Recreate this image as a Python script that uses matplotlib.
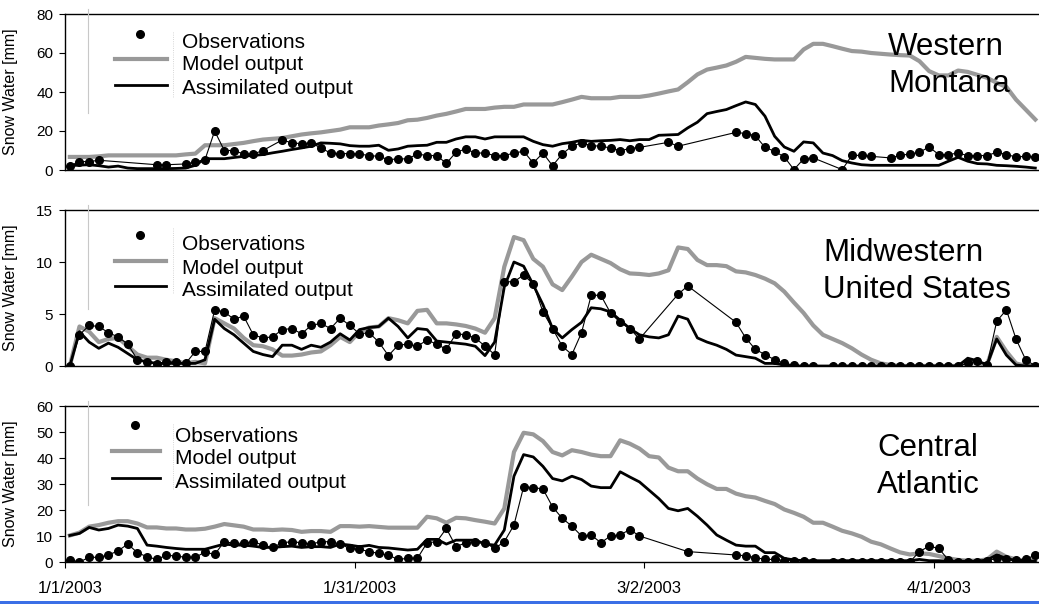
import numpy as np
import matplotlib.pyplot as plt
from matplotlib.lines import Line2D
from matplotlib.patches import Rectangle

plt.rcParams['font.family'] = ['Liberation Sans', 'DejaVu Sans']

# day index 0 = 1/1/2003
days = np.arange(101)
tick_days = [0, 30, 60, 90]
tick_labels = ['1/1/2003', '1/31/2003', '3/2/2003', '4/1/2003']
series_names = ['Observations', 'Model output', 'Assimilated output']
regions = ['Western\nMontana', 'Midwestern\nUnited States', 'Central\nAtlantic']

# --- Western Montana ---
mt_model = [6.7, 6.7, 6.7, 7.0, 7.5, 7.5, 7.5, 7.5, 7.5, 7.5,
            7.5, 7.5, 8.0, 8.4, 12.7, 12.7, 12.7, 13.3, 13.9, 14.8,
            15.6, 16.0, 16.4, 17.3, 18.2, 18.8, 19.3, 20.0, 20.7, 21.9,
            21.9, 21.9, 22.8, 23.4, 24.1, 25.5, 25.8, 26.7, 27.9, 28.8,
            30.0, 31.3, 31.3, 31.3, 32.0, 32.4, 32.4, 33.6, 33.6, 33.6,
            33.6, 34.8, 36.1, 37.5, 36.8, 36.8, 36.8, 37.5, 37.5, 37.5,
            38.2, 39.2, 40.3, 41.3, 45.0, 49.0, 51.5, 52.5, 53.6, 55.5,
            58.0, 57.5, 57.0, 56.7, 56.7, 56.7, 61.8, 64.7, 64.7, 63.5,
            62.2, 61.0, 60.7, 60.0, 59.6, 59.2, 58.9, 58.7, 55.8, 50.7,
            48.5, 48.5, 51.0, 50.3, 48.8, 47.3, 44.7, 42.6, 36.1, 31.0,
            25.9]
mt_assim = [2.2, 2.5, 2.7, 2.2, 1.5, 2.0, 1.0, 0.7, 0.7, 0.7,
            0.7, 0.8, 1.0, 2.4, 5.8, 5.8, 5.8, 6.4, 7.0, 7.5,
            7.9, 8.8, 9.6, 10.5, 11.3, 12.2, 13.9, 13.7, 13.4, 12.5,
            12.2, 12.2, 12.7, 10.1, 10.8, 12.2, 12.5, 12.7, 14.2, 14.2,
            15.9, 17.0, 17.0, 15.9, 17.0, 17.0, 17.0, 17.0, 14.7, 13.0,
            12.2, 13.5, 14.2, 15.2, 14.7, 15.0, 15.2, 15.6, 15.0, 15.6,
            15.6, 17.8, 18.0, 18.2, 21.6, 24.5, 28.9, 30.0, 31.0, 33.0,
            34.9, 33.6, 27.6, 17.3, 11.8, 9.6, 14.4, 13.9, 8.7, 7.4,
            4.8, 3.6, 2.7, 2.4, 2.4, 2.4, 2.4, 2.4, 2.4, 2.4,
            2.4, 4.5, 6.5, 4.5, 3.3, 3.1, 2.4, 2.2, 1.9, 1.5,
            1.0]
mt_obs_days = [0, 1, 2, 3, 9, 10, 12, 13, 14, 15, 16, 17, 18, 19, 20,
               22, 23, 24, 25, 26, 27, 28, 29, 30, 31, 32, 33, 34, 35, 36,
               37, 38, 39, 40, 41, 42, 43, 44, 45, 46, 47, 48, 49, 50, 51,
               52, 53, 54, 55, 56, 57, 58, 59, 62, 63, 69, 70, 71, 72, 73,
               74, 75, 76, 77, 80, 81, 82, 83, 85, 86, 87, 88, 89, 90, 91,
               92, 93, 94, 95, 96, 97, 98, 99, 100]
mt_obs = [2.2, 4.3, 4.3, 5.0, 2.7, 2.7, 3.1, 4.1, 5.3, 20.0, 10.0, 10.0, 8.2, 8.2, 10.0,
          15.4, 13.9, 13.5, 13.9, 11.3, 8.7, 8.4, 8.4, 8.2, 7.4, 7.0, 5.3, 5.7, 5.7, 8.2,
          7.4, 7.4, 3.4, 9.1, 10.8, 8.7, 8.7, 7.4, 7.4, 8.7, 9.6, 3.6, 8.7, 2.2, 8.2,
          12.2, 13.9, 12.5, 12.2, 11.3, 9.9, 11.0, 11.6, 14.2, 12.2, 19.3, 18.7, 17.6, 11.6, 9.6,
          6.7, 0.2, 5.7, 6.2, 0.2, 7.5, 7.5, 7.0, 6.2, 7.5, 8.2, 9.1, 11.8, 7.9, 7.9,
          8.7, 7.4, 7.4, 7.4, 9.1, 7.9, 6.7, 7.0, 6.7]

# --- Midwestern United States ---
mw_model = [0.0, 3.8, 3.3, 2.3, 2.6, 2.7, 1.9, 1.1, 0.8, 0.8,
            0.6, 0.45, 0.25, 0.4, 0.25, 4.6, 4.1, 3.6, 2.7, 2.0,
            1.9, 1.6, 1.0, 1.0, 1.1, 1.3, 1.4, 2.0, 2.8, 2.3,
            3.3, 3.7, 3.8, 4.6, 4.4, 4.1, 5.3, 5.4, 4.1, 4.1,
            4.0, 3.85, 3.6, 3.2, 4.6, 9.55, 12.4, 12.1, 10.3, 9.55,
            7.85, 7.3, 8.6, 10.0, 10.7, 10.3, 9.9, 9.3, 8.9, 8.85,
            8.75, 8.9, 9.2, 11.4, 11.25, 10.2, 9.7, 9.7, 9.6, 9.1,
            9.0, 8.75, 8.4, 7.95, 7.15, 6.1, 5.1, 3.9, 3.0, 2.6,
            2.2, 1.7, 1.1, 0.6, 0.25, 0.1, 0.0, 0.0, 0.0, 0.0,
            0.0, 0.0, 0.0, 0.5, 0.25, 0.15, 2.8, 1.4, 0.25, 0.0,
            0.0]
mw_assim = [0.0, 3.3, 2.3, 1.7, 2.2, 1.8, 1.2, 0.6, 0.4, 0.25,
            0.25, 0.25, 0.25, 0.25, 0.6, 4.5, 3.6, 3.0, 2.2, 1.4,
            1.1, 0.9, 2.0, 2.0, 1.6, 2.0, 1.8, 2.3, 3.1, 2.5,
            3.5, 3.7, 3.8, 4.6, 3.8, 2.7, 3.6, 3.5, 2.4, 2.3,
            2.2, 2.1, 1.9, 1.0, 2.3, 7.6, 10.0, 9.6, 7.8, 5.9,
            3.6, 2.7, 3.5, 4.2, 5.6, 5.5, 5.2, 4.4, 3.6, 3.0,
            2.8, 2.7, 3.0, 4.8, 4.5, 2.7, 2.3, 2.0, 1.6, 1.05,
            0.9, 0.75, 0.25, 0.25, 0.1, 0.0, 0.0, 0.0, 0.0, 0.0,
            0.0, 0.0, 0.0, 0.0, 0.0, 0.0, 0.0, 0.0, 0.0, 0.0,
            0.0, 0.0, 0.0, 0.75, 0.5, 0.1, 2.6, 1.05, 0.1, 0.0,
            0.0]
mw_obs_days = [0, 1, 2, 3, 4, 5, 6, 7, 8, 9, 10, 11, 12, 13, 14,
               15, 16, 17, 18, 19, 20, 21, 22, 23, 24, 25, 26, 27, 28, 29,
               30, 31, 32, 33, 34, 35, 36, 37, 38, 39, 40, 41, 42, 43, 44,
               45, 46, 47, 48, 49, 50, 51, 52, 53, 54, 55, 56, 57, 58, 59,
               63, 64, 69, 70, 71, 72, 73, 74, 75, 76, 77, 79, 80, 81, 82,
               83, 84, 85, 86, 87, 88, 89, 90, 91, 92, 93, 94, 95, 96, 97,
               98, 99, 100]
mw_obs = [0.0, 3.0, 3.9, 3.8, 3.2, 2.8, 2.1, 0.6, 0.4, 0.16, 0.4, 0.4, 0.25, 1.4, 1.4,
          5.4, 5.2, 4.5, 4.8, 3.0, 2.7, 2.8, 3.5, 3.6, 3.1, 3.9, 4.1, 3.6, 4.6, 3.9,
          3.1, 3.2, 2.3, 1.0, 2.0, 2.1, 1.9, 2.5, 2.1, 1.6, 3.1, 3.0, 2.7, 1.9, 1.1,
          8.1, 8.1, 8.75, 7.9, 5.2, 3.6, 1.9, 1.1, 3.2, 6.8, 6.8, 5.1, 4.2, 3.6, 2.6,
          6.9, 7.7, 4.2, 2.7, 1.6, 1.1, 0.6, 0.25, 0.1, 0.0, 0.0, 0.0, 0.0, 0.0, 0.0,
          0.0, 0.0, 0.0, 0.0, 0.0, 0.0, 0.0, 0.0, 0.0, 0.0, 0.25, 0.5, 0.1, 4.3, 5.4,
          2.6, 0.6, 0.0]

# --- Central Atlantic ---
ca_model = [10.2, 11.3, 13.6, 14.2, 15.1, 15.7, 15.7, 14.8, 13.3, 13.3,
            12.9, 12.9, 12.5, 12.5, 12.8, 13.6, 14.6, 14.1, 13.6, 12.5,
            12.5, 12.3, 12.5, 12.3, 11.6, 11.9, 11.9, 11.6, 13.8, 13.8,
            13.6, 13.8, 13.5, 13.2, 13.2, 13.2, 13.2, 17.4, 16.8, 15.1,
            17.0, 16.8, 16.1, 15.5, 14.8, 20.6, 42.3, 49.7, 49.1, 46.5,
            42.3, 41.0, 43.0, 42.3, 41.3, 40.7, 40.7, 46.8, 45.5, 43.6,
            40.7, 40.2, 36.3, 34.9, 34.9, 32.1, 29.9, 28.1, 28.1, 26.3,
            25.3, 24.8, 23.5, 22.3, 20.2, 18.9, 17.4, 15.1, 15.1, 13.6,
            12.0, 11.0, 9.7, 7.8, 6.8, 5.2, 3.7, 2.9, 3.3, 3.1,
            2.3, 1.4, 0.8, 0.5, 0.5, 1.0, 4.0, 2.0, 1.0, 0.5,
            0.8]
ca_assim = [10.2, 11.0, 13.3, 12.3, 12.9, 14.2, 13.8, 12.9, 6.5, 6.1,
            5.6, 5.2, 4.9, 4.9, 4.9, 5.9, 6.9, 6.5, 6.5, 6.1,
            5.6, 5.6, 5.9, 6.1, 5.6, 5.9, 5.9, 5.6, 6.9, 6.5,
            5.9, 6.4, 5.6, 5.4, 5.0, 4.6, 4.9, 8.7, 8.7, 6.9,
            8.4, 8.4, 8.4, 6.9, 6.5, 12.3, 33.0, 41.3, 40.4, 36.8,
            32.1, 31.2, 33.0, 31.7, 29.2, 28.6, 28.6, 34.7, 32.7, 30.8,
            27.6, 24.4, 20.6, 19.7, 20.6, 17.6, 14.2, 10.4, 8.4, 6.5,
            6.1, 6.1, 3.6, 3.6, 1.4, 0.8, 0.5, 0.5, 0.5, 0.5,
            0.5, 0.5, 0.5, 0.5, 0.5, 0.5, 0.5, 0.5, 1.0, 0.5,
            0.5, 0.3, 0.3, 0.3, 0.3, 0.8, 2.7, 1.4, 0.5, 0.5,
            0.3]
ca_obs_days = [0, 1, 2, 3, 4, 5, 6, 7, 8, 9, 10, 11, 12, 13, 14,
               15, 16, 17, 18, 19, 20, 21, 22, 23, 24, 25, 26, 27, 28, 29,
               30, 31, 32, 33, 34, 35, 36, 37, 38, 39, 40, 41, 42, 43, 44,
               45, 46, 47, 48, 49, 50, 51, 52, 53, 54, 55, 56, 57, 58, 59,
               64, 69, 70, 71, 72, 73, 74, 75, 76, 77, 79, 80, 81, 82, 83,
               84, 85, 86, 87, 88, 89, 90, 91, 92, 93, 94, 95, 96, 97, 98,
               99, 100]
ca_obs = [0.8, 0.0, 1.8, 1.8, 2.7, 4.3, 6.9, 3.6, 2.0, 1.0, 2.6, 2.3, 1.8, 1.8, 3.8,
          2.9, 7.8, 7.2, 7.2, 7.8, 6.5, 5.6, 7.4, 7.8, 7.4, 6.9, 7.8, 7.8, 6.9, 5.2,
          4.9, 4.0, 3.3, 2.6, 1.0, 1.4, 1.4, 7.4, 7.8, 12.9, 5.9, 7.4, 7.8, 7.4, 5.2,
          7.8, 14.2, 28.9, 28.6, 28.1, 21.2, 16.8, 13.8, 10.0, 10.4, 7.4, 10.0, 10.4, 12.5, 10.0,
          4.0, 2.7, 2.4, 1.7, 1.0, 1.0, 0.5, 0.5, 0.5, 0.0, 0.0, 0.0, 0.0, 0.0, 0.0,
          0.0, 0.0, 0.0, 0.0, 4.0, 6.1, 5.2, 0.8, 0.0, 0.0, 0.0, 0.5, 1.4, 1.3, 0.8,
          1.0, 2.7]

panels = [
    (mt_model, mt_assim, mt_obs_days, mt_obs, [0, 20, 40, 60, 80]),
    (mw_model, mw_assim, mw_obs_days, mw_obs, [0, 5, 10, 15]),
    (ca_model, ca_assim, ca_obs_days, ca_obs, [0, 10, 20, 30, 40, 50, 60]),
]

W, H = 1039, 604
fig = plt.figure(figsize=(W / 100, H / 100), dpi=100)


def fx(x):
    return x / W


def fy(y):
    return 1 - y / H


tops = [14, 210, 406]
ph = 156
left = 65
# legend layout per panel (pixels): marker x, line x0, line x1, text x, and row offsets
leg_x = [(140, 115, 167, 182), (140, 115, 166, 182), (135, 112, 160, 175)]
leg_dy = [(20, 29, 45, 51, 71, 75), (25, 34, 51, 58, 76, 80), (19, 31, 45, 53, 72, 77)]
region_pos = [(888, 32), (823, 238), (877, 433)]

for i, (model, assim, od, ov, yt) in enumerate(panels):
    top = tops[i]
    ax = fig.add_axes([fx(left), fy(top + ph), fx(W - left), ph / H])
    x = days + 0.5
    ax.plot(x, model, color='#999999', lw=3.0, solid_joinstyle='round', zorder=2)
    ax.plot(x, assim, color='black', lw=2.0, solid_joinstyle='round', zorder=3)
    ax.plot(np.array(od) + 0.5, ov, color='black', lw=0.8, marker='o', ms=5.5, zorder=4)
    ax.set_xlim(0, (W - left) / 9.655)
    ax.set_ylim(yt[0], yt[-1])
    ax.set_yticks(yt)
    ax.tick_params(axis='y', direction='out', length=4.5, width=0.8, labelsize=11, pad=4)
    ax.spines['right'].set_visible(False)
    for s in ['left', 'top', 'bottom']:
        ax.spines[s].set_linewidth(1.0)
    ax.set_ylabel('Snow Water [mm]', fontsize=11.5)
    ax.yaxis.set_label_coords((18 - left) / (W - left), 0.5)
    if i < 2:
        ax.set_xticks([])
    else:
        ax.set_xticks(tick_days)
        ax.set_xticklabels([])
        ax.set_xticks(np.array(tick_days) + 0.5, minor=True)
        ax.set_xticklabels(tick_labels, minor=True)
        ax.tick_params(axis='x', which='major', direction='out', length=4, width=0.8)
        ax.tick_params(axis='x', which='minor', length=0, labelsize=12, pad=14)

    # legend drawn by hand
    mx, lx0, lx1, tx = leg_x[i]
    d = leg_dy[i]
    fig.add_artist(Line2D([fx(88), fx(88)], [fy(top - 5), fy(top + 99)],
                          transform=fig.transFigure, color='#c8c8c8', lw=0.8))
    fig.add_artist(Line2D([fx(173), fx(173)], [fy(top + 18), fy(top + 83)],
                          transform=fig.transFigure, color='#c8c8c8', lw=0.6, ls=':'))
    fig.add_artist(Line2D([fx(mx)], [fy(top + d[0])], transform=fig.transFigure,
                          marker='o', ms=5.5, color='black', lw=0))
    fig.add_artist(Line2D([fx(lx0), fx(lx1)], [fy(top + d[2])] * 2, transform=fig.transFigure,
                          color='#999999', lw=3.0))
    fig.add_artist(Line2D([fx(lx0), fx(lx1)], [fy(top + d[4])] * 2, transform=fig.transFigure,
                          color='black', lw=2.0))
    for name, dy in zip(series_names, [d[1], d[3], d[5]]):
        fig.text(fx(tx), fy(top + dy), name, fontsize=15, ha='left', va='center')

    rx, ry = region_pos[i]
    fig.text(fx(rx), fy(ry), regions[i], fontsize=22.5, ha='left', va='top', linespacing=1.32)

# blue rule along the bottom edge
fig.patches.append(Rectangle((0, 0), 1, 3.5 / H, transform=fig.transFigure,
                             facecolor='#3b6fe6', edgecolor='none'))

fig.savefig('out.png', dpi=100)
